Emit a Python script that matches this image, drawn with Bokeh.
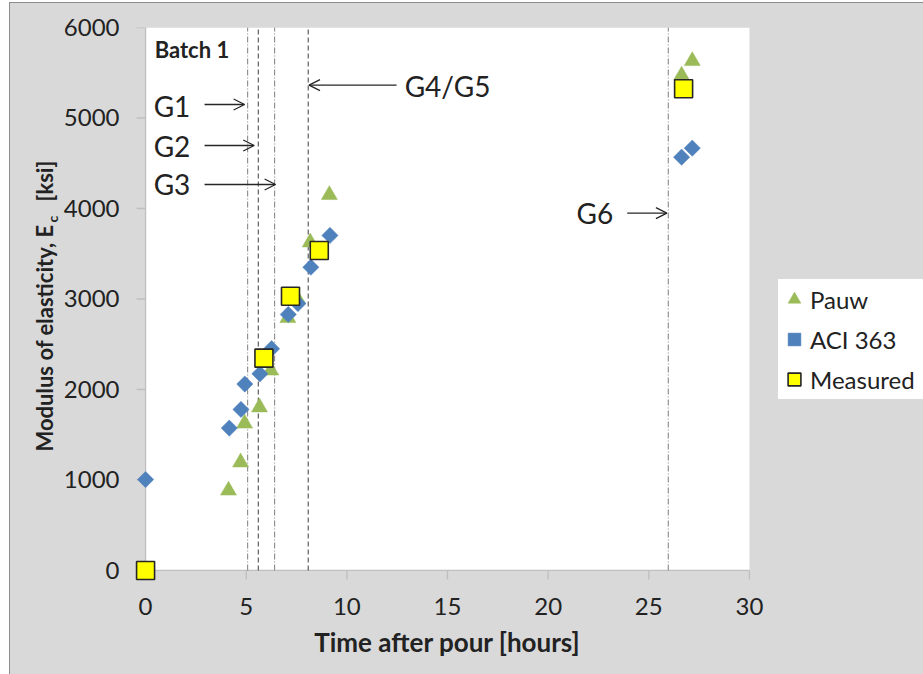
import math
from bokeh.plotting import figure
from bokeh.layouts import row
from bokeh.models import (Range1d, FixedTicker, Legend, LegendItem, Arrow, OpenHead,
                          Label, BoxAnnotation, ColumnDataSource)
from bokeh.core.properties import value
from bokeh.embed import file_html
from bokeh.resources import INLINE

# ---------------- data ----------------
pauw_t = [0, 4.12, 4.72, 4.92, 5.66, 6.22, 7.07, 7.55, 8.18, 9.13, 26.63, 27.16]
pauw_E = [0, 884, 1195, 1624, 1803, 2210, 2790, 3000, 3626, 4150, 5470, 5630]

aci_t = [0, 4.16, 4.74, 4.93, 5.68, 6.26, 7.09, 7.57, 8.21, 9.16, 26.63, 27.16]
aci_E = [1005, 1573, 1779, 2060, 2173, 2450, 2829, 2950, 3351, 3702, 4567, 4667]

meas_t = [0, 5.88, 7.2, 8.63, 26.73]
meas_E = [0, 2346, 3031, 3536, 5323]

g_times = [5.07, 5.6, 6.41, 8.08, 25.97]
g_labels = ["G1", "G2", "G3", "G4/G5", "G6"]

x_ticks = [0, 5, 10, 15, 20, 25, 30]
y_ticks = [0, 1000, 2000, 3000, 4000, 5000, 6000]

FONT = "Lato"
TXT = "#222222"
AXC = "#BFBFBF"
BG = "#D9D9D9"

# ---------------- main chart ----------------
p = figure(frame_width=628, frame_height=555,
           x_range=Range1d(-0.6, 30.6), y_range=Range1d(-133, 6000),
           min_border_left=72, min_border_right=163, min_border_top=24, min_border_bottom=92,
           output_backend="svg", toolbar_location=None)
p.border_fill_color = BG
p.background_fill_color = BG
p.outline_line_color = None
p.xgrid.visible = False
p.ygrid.visible = False

# white plot area
p.add_layout(BoxAnnotation(left=0, right=30, bottom=0, top=6000, fill_color="white",
                           fill_alpha=1, line_color=None, level="underlay"))

for ax in (p.xaxis[0], p.yaxis[0]):
    ax.axis_line_color = None
    ax.major_tick_line_color = None
    ax.major_tick_in = 0
    ax.major_tick_out = 0
    ax.minor_tick_line_color = None
    ax.major_label_text_font = FONT
    ax.major_label_text_font_size = "24px"
    ax.major_label_text_color = TXT

p.xaxis.ticker = FixedTicker(ticks=x_ticks)
p.yaxis.ticker = FixedTicker(ticks=y_ticks)
p.yaxis.major_label_standoff = 14
p.xaxis.major_label_standoff = 15
p.xaxis.axis_label = "Time after pour [hours]"
p.xaxis.axis_label_text_font = FONT
p.xaxis.axis_label_text_font_style = "bold"
p.xaxis.axis_label_text_font_size = "26px"
p.xaxis.axis_label_text_color = TXT
p.xaxis.axis_label_standoff = 8

# axis lines and outward tick marks at x=0 / y=0 (drawn in data space)
tick_dx = 9 / (628 / 31.2)
tick_dy = 9 / (555 / 6133)
p.segment(x0=[0], y0=[0], x1=[0], y1=[6000], line_color=AXC, line_width=1.3)
p.segment(x0=[0], y0=[0], x1=[30], y1=[0], line_color=AXC, line_width=1.3)
p.segment(x0=[-tick_dx] * len(y_ticks), y0=y_ticks, x1=[0] * len(y_ticks), y1=y_ticks,
          line_color=AXC, line_width=1.3)
p.segment(x0=x_ticks, y0=[-tick_dy] * len(x_ticks), x1=x_ticks, y1=[0] * len(x_ticks),
          line_color=AXC, line_width=1.3)

# vertical marker lines
dash_colors = ["#8A8A8A", "#505050", "#8A8A8A", "#505050", "#8A8A8A"]
dash_styles = ["6 2 1 2", "5 3", "6 2 1 2", "5 3", "6 2 1 2"]
for t, c, d in zip(g_times, dash_colors, dash_styles):
    p.segment(x0=[t], y0=[0], x1=[t], y1=[6000], line_color=c, line_dash=d, line_width=1.1)

# series
r_pauw = p.scatter(pauw_t, pauw_E, marker="triangle", size=16, fill_color="#9BBB59",
                   line_color="#9BBB59", line_width=0.5)
r_aci = p.scatter(aci_t, aci_E, marker="square", angle=math.pi / 4, size=11.5,
                  fill_color="#4F81BD", line_color="#4F81BD", line_width=0.5)
r_meas = p.scatter(meas_t, meas_E, marker="square", size=18, fill_color="#FFFF00",
                   line_color="#262626", line_width=1.6)

# annotation texts
ann = ColumnDataSource(dict(
    x=[0.4, 0.4, 0.4, 12.87, 21.41],
    y=[5130, 4686, 4266, 5349, 3945],
    t=g_labels))
p.text(x="x", y="y", text="t", source=ann, text_font=value(FONT), text_font_size="28px",
       text_color=TXT, text_align="left", text_baseline="alphabetic")
p.text(x=[0.45], y=[5757], text=["Batch 1"], text_font=value(FONT), text_font_size="22px",
       text_font_style="bold", text_color=TXT, text_align="left", text_baseline="alphabetic")

# arrows
arrow_specs = [
    (2.93, 5149, 4.92, 5149),
    (2.93, 4696, 5.40, 4696),
    (2.93, 4265, 6.46, 4265),
    (12.47, 5363, 8.12, 5363),
    (23.93, 3948, 25.90, 3948),
]
for xs, ys, xe, ye in arrow_specs:
    p.add_layout(Arrow(end=OpenHead(size=11, line_width=1.3, line_color="#262626"),
                       x_start=xs, y_start=ys, x_end=xe, y_end=ye,
                       line_width=1.3, line_color="#262626"))

legend = Legend(items=[LegendItem(label="Pauw", renderers=[r_pauw]),
                       LegendItem(label="ACI 363", renderers=[r_aci]),
                       LegendItem(label="Measured", renderers=[r_meas])],
                location=(17, 183), orientation="vertical",
                glyph_width=32, glyph_height=32, label_height=40, spacing=0,
                padding=4, margin=0, label_standoff=0, label_width=120,
                label_text_font=FONT, label_text_font_size="24px", label_text_color=TXT,
                background_fill_color="white", background_fill_alpha=1,
                border_line_color=None)
p.add_layout(legend, "right")

# ---------------- y-axis title panel ----------------
tf = figure(frame_width=50, frame_height=671, x_range=Range1d(0, 50), y_range=Range1d(671, 0),
            min_border=0, x_axis_location=None, y_axis_location=None,
            output_backend="svg", toolbar_location=None)
tf.border_fill_color = BG
tf.background_fill_color = BG
tf.outline_line_color = None
tf.xgrid.visible = False
tf.ygrid.visible = False
tf.add_layout(Label(x=34, y=197, text="Modulus of elasticity, E", angle=math.pi / 2,
                    text_align="right", text_baseline="alphabetic", text_font=FONT,
                    text_font_style="bold", text_font_size="22px", text_color=TXT))
tf.add_layout(Label(x=42, y=195, text="c", angle=math.pi / 2,
                    text_align="left", text_baseline="alphabetic", text_font=FONT,
                    text_font_style="bold", text_font_size="14px", text_color=TXT))
tf.add_layout(Label(x=34, y=174, text="[ksi]", angle=math.pi / 2,
                    text_align="left", text_baseline="alphabetic", text_font=FONT,
                    text_font_style="bold", text_font_size="22px", text_color=TXT))

lay = row(tf, p, spacing=0, margin=(2, 0, 0, 9),
          styles={"border-top": "1px solid #8C8C8C", "border-left": "1px solid #8C8C8C",
                  "background-color": BG})

open("out.html", "w").write(file_html(lay, INLINE))
